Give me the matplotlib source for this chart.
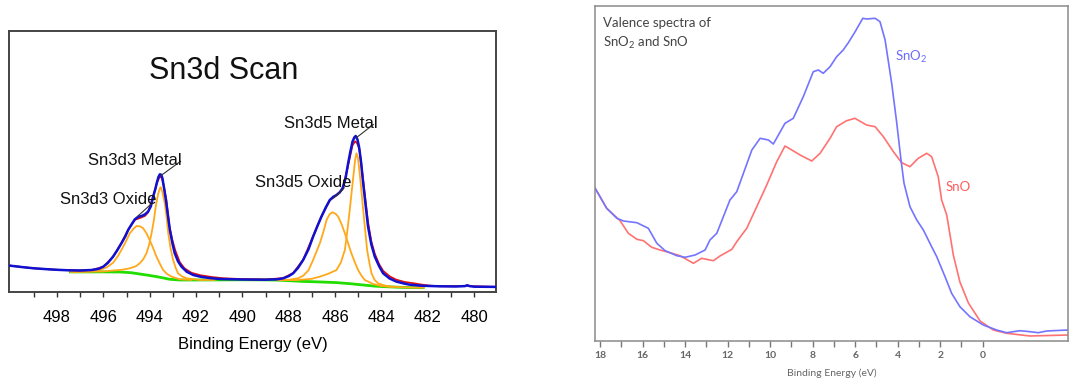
import matplotlib
matplotlib.use("Agg")
import matplotlib.pyplot as plt

# ---- left panel: Sn3d scan (binding energy eV, intensity in arbitrary units) ----
env_e = [500.05, 499.5, 499.0, 498.5, 498.0, 497.5, 497.0, 496.5, 496.2, 496.0, 495.8, 495.58,
         495.4, 495.22, 495.05, 494.93, 494.78, 494.64, 494.5, 494.35, 494.2, 494.07, 493.95,
         493.85, 493.76, 493.68, 493.62, 493.56, 493.5, 493.45, 493.38, 493.3, 493.22, 493.13,
         493.02, 492.92, 492.78, 492.63, 492.4, 492.12, 491.8, 491.4, 490.97, 490.0, 489.0,
         488.5, 488.24, 488.0, 487.81, 487.6, 487.38, 487.15, 486.95, 486.77, 486.59, 486.4,
         486.23, 486.08, 485.94, 485.8, 485.68, 485.55, 485.44, 485.34, 485.25, 485.17, 485.11,
         485.04, 484.97, 484.88, 484.79, 484.68, 484.58, 484.44, 484.29, 484.1, 483.93, 483.65,
         483.36, 483.0, 482.78, 482.3, 481.5, 480.8, 480.4, 480.3, 480.2, 480.0, 479.06]
env_y = [26.7, 25.2, 24.0, 23.2, 22.5, 22.0, 21.8, 22.3, 23.5, 25.7, 29.5, 35.7,
         42, 49, 56, 62.3, 68, 73, 75.5, 76.3, 78, 80.7, 86,
         95.7, 103, 110.7, 115.5, 118, 117.5, 114, 104, 92.3, 78, 62.3,
         49, 39, 31, 25.7, 20.5, 17.3, 15.5, 14.2, 13.3, 12.8, 12.6,
         13.0, 14, 16.2, 19, 24.5, 32.3, 43, 55.7, 66, 75.7, 85,
         92.3, 95.5, 97.3, 100, 104, 114, 129, 141, 150.7, 155, 156.3,
         153, 145.7, 130, 109, 86, 65.7, 48, 35.7, 26, 19, 13.8,
         10.7, 8.6, 7.6, 6.6, 6.0, 5.8, 6.2, 7.0, 6.2, 5.6, 5.4]

raw_e = [500.05, 499.0, 498.0, 497.0, 496.5, 496.0, 495.58, 495.22, 494.93, 494.64, 494.4,
         494.2, 494.07, 493.85, 493.68, 493.56, 493.47, 493.38, 493.28, 493.15, 493.02, 492.9,
         492.7, 492.5, 492.2, 491.8, 491.3, 490.8, 490.0, 489.0, 488.24, 487.81, 487.38,
         486.95, 486.59, 486.23, 485.94, 485.68, 485.44, 485.25, 485.14, 485.05, 484.95, 484.8,
         484.68, 484.58, 484.44, 484.29, 484.1, 483.93, 483.65, 483.36, 483.0, 482.6, 482.3,
         481.9, 481.5, 480.4, 480.3, 480.2, 479.06]
raw_y = [26.7, 24.0, 22.5, 21.8, 22.3, 25.5, 35.5, 49.5, 62.5, 72.5, 74.5,
         76.5, 80, 96, 110, 116, 114, 105, 92, 66, 52, 42,
         30, 24, 19.5, 17, 15.2, 14, 13.2, 12.8, 14.2, 19.3, 32.5,
         56, 76, 92, 97, 103, 127, 147, 151, 149, 143, 114,
         90, 70, 51, 38.5, 28, 21.5, 16, 12.6, 10.3, 9, 7.8,
         6.6, 6.1, 6.2, 7.0, 6.2, 5.4]

bg_e = [497.42, 497.0, 496.0, 495.29, 494.8, 494.43, 494.05, 493.71, 493.4, 493.13, 492.7,
        492.0, 491.0, 490.0, 489.0, 488.5, 488.0, 487.38, 486.6, 485.94, 485.3, 484.79,
        484.3, 483.93, 483.3, 482.78, 482.2]
bg_y = [20.4, 20.4, 20.4, 20.3, 19.6, 18.3, 17, 15.7, 14.3, 13, 12.3,
        12.3, 12.4, 12.5, 12.4, 12.2, 11.6, 10.9, 10.3, 9.7, 8.5, 7.3,
        6.2, 5.7, 5.1, 4.7, 4.6]

ox3_e = [497.4, 496.6, 496.15, 495.85, 495.58, 495.35, 495.14, 494.98, 494.86, 494.7, 494.57,
         494.42, 494.28, 494.14, 494.0, 493.85, 493.71, 493.55, 493.42, 493.25, 493.06, 492.7, 492.2]
ox3_y = [20.4, 20.8, 22.3, 25, 29.5, 37, 45.7, 53, 59, 63.5, 66.3,
         66, 64, 59, 52.3, 44, 35.7, 28, 22.3, 18.3, 15.7, 13, 12.4]

me3_e = [497.4, 496.0, 495.58, 495.2, 494.86, 494.6, 494.43, 494.28, 494.14, 494.02, 493.92,
         493.82, 493.74, 493.64, 493.56, 493.52, 493.45, 493.35, 493.27, 493.2, 493.1, 492.99,
         492.88, 492.78, 492.6, 492.41, 491.84, 491.2]
me3_y = [20.4, 20.8, 21.8, 22.5, 24, 26, 29, 33, 39, 48, 59,
         72, 85.7, 98, 104, 105, 100, 89, 75, 59, 44, 32.3,
         24.5, 19, 15.8, 14, 12.3, 12.3]

ox5_e = [488.5, 488.0, 487.6, 487.38, 487.15, 486.95, 486.8, 486.66, 486.5, 486.37, 486.24,
         486.12, 485.98, 485.87, 485.72, 485.58, 485.44, 485.3, 485.15, 485.01, 484.86, 484.72,
         484.36, 484.0, 483.5]
ox5_y = [12.2, 12.5, 14, 16.5, 22, 32.3, 41, 49, 61, 72.3, 78,
         80, 78.5, 75.7, 68, 59, 49, 39, 30, 22.3, 16.5, 12.3,
         8.3, 6.3, 5.3]

me5_e = [488.5, 487.67, 487.0, 486.66, 486.3, 485.94, 485.75, 485.58, 485.47, 485.37, 485.28,
         485.2, 485.14, 485.08, 485.02, 484.97, 484.88, 484.79, 484.7, 484.62, 484.52, 484.43,
         484.3, 484.15, 483.9, 483.64, 482.78, 482.2]
me5_y = [12.2, 12.2, 13.5, 15.7, 18.5, 22.3, 30, 42.3, 62, 82.3, 102,
         119, 132, 139, 135, 125.7, 105, 82.3, 61, 42.3, 29, 19,
         12.5, 9, 7, 5.7, 4.7, 4.6]

# label text, text anchor (left, centre) and leader line (from, to)
peak_labels = ["Sn3d3 Metal", "Sn3d3 Oxide", "Sn3d5 Oxide", "Sn3d5 Metal"]
label_pos = [(496.68, 132), (497.87, 92.8), (489.47, 109.5), (488.21, 168.9)]
leader_from = [(492.67, 131), (493.96, 87.8), (485.61, 104.4), (484.35, 167.8)]
leader_to = [(493.51, 116.8), (494.52, 76), (486.06, 94.4), (485.09, 154.5)]

# ---- right panel: valence spectra ----
sno2_e = [18.24, 17.69, 17.21, 16.9, 16.27, 15.73, 15.33, 14.94, 14.39, 14.0, 13.53, 13.06,
          12.83, 12.51, 11.89, 11.57, 10.86, 10.47, 10.08, 9.85, 9.3, 8.91, 8.44, 7.97,
          7.73, 7.5, 7.18, 6.87, 6.56, 6.32, 6.0, 5.64, 5.46, 5.06, 4.83, 4.59, 4.28, 4.04,
          3.86, 3.7, 3.42, 3.1, 2.79, 2.48, 2.16, 1.77, 1.46, 1.07, 0.6, -0.03, -0.66,
          -1.13, -1.76, -2.23, -2.62, -3.01, -4.03]
sno2_y = [153, 132.7, 122.7, 120, 118.3, 112.7, 97.7, 90.3, 85.3, 83.7, 86, 91,
          101, 107.7, 141, 149.3, 191, 202.7, 201, 197, 217.7, 222.7, 244.3, 269.3,
          271, 267.7, 274.3, 284.3, 291, 298.3, 309.3, 322.7, 322, 322.7, 319.3, 301, 257.7, 217.7,
          184.3, 157.7, 134.3, 121, 111, 97.7, 84.3, 64.3, 47.7, 34.3, 24.3, 16, 11,
          8.3, 10.3, 9.3, 8.3, 10, 11]

sno_e = [18.24, 17.69, 17.06, 16.67, 16.27, 15.96, 15.57, 15.18, 14.71, 14.24, 13.61, 13.22,
         12.67, 12.36, 11.8, 11.57, 11.1, 10.63, 10.16, 9.69, 9.3, 8.98, 8.59, 8.04,
         7.65, 7.18, 6.87, 6.4, 6.01, 5.46, 5.06, 4.67, 4.2, 3.81, 3.42, 3.03, 2.63, 2.4,
         2.09, 1.93, 1.69, 1.38, 1.07, 0.67, 0.12, -0.5, -1.13, -2.23, -4.03]
sno_y = [153, 132.7, 120.3, 107.7, 101.7, 100.3, 93.7, 91, 88.3, 85.3, 77.7, 82.7,
         80.3, 85, 91.7, 99.3, 112.7, 134.3, 156, 179.3, 195, 191, 186, 180,
         187.7, 202.7, 214.3, 220.3, 222.7, 216, 214.3, 204.3, 189.3, 178.3, 174.3, 182.7, 187.7, 184.3,
         164.3, 141, 126, 86, 59, 38, 20, 11, 7.7, 5, 6]

xticks_left = list(range(480, 500, 2))
xticks_right = list(range(0, 20, 2))

fig = plt.figure(figsize=(10.8, 3.92), dpi=100)

# left panel
ax1 = fig.add_axes([9 / 1080, 1 - 292.3 / 392, 487 / 1080, 261.3 / 392])
ax1.plot(bg_e, bg_y, color="#22dd00", lw=2.0, zorder=2)
for e, y in [(ox3_e, ox3_y), (me3_e, me3_y), (ox5_e, ox5_y), (me5_e, me5_y)]:
    ax1.plot(e, y, color="#ffa81a", lw=1.3, zorder=3)
ax1.plot(raw_e, raw_y, color="#e01010", lw=1.3, zorder=4)
ax1.plot(env_e, env_y, color="#1010d0", lw=1.8, zorder=5)

for txt, (tx, ty), p0, p1 in zip(peak_labels, label_pos, leader_from, leader_to):
    ax1.plot([p0[0], p1[0]], [p0[1], p1[1]], color="#333333", lw=0.8, zorder=6)
    ax1.text(tx, ty, txt, ha="left", va="center", fontsize=12,
             family="Liberation Sans", color="#111111", zorder=7)
ax1.text(490.81, 221.2, "Sn3d Scan", ha="center", va="center", fontsize=22,
         family="Liberation Sans", color="#111111")

ax1.set_xlim(500.07, 479.06)
ax1.set_ylim(0, 261.3)
ax1.set_yticks([])
ax1.set_xticks(range(480, 500), minor=True)
ax1.set_xticks(xticks_left)
ax1.set_xticklabels([str(v) for v in xticks_left], fontsize=12, family="Liberation Sans")
ax1.tick_params(axis="x", which="both", direction="out", length=3.5, width=1.0,
                color="#333333", pad=9)
ax1.tick_params(axis="x", which="minor", labelbottom=False)
ax1.set_xlabel("Binding Energy (eV)", fontsize=12, family="Liberation Sans", labelpad=9)
for s in ax1.spines.values():
    s.set_color("#444444")
    s.set_linewidth(1.4)

# right panel
ax2 = fig.add_axes([595 / 1080, 1 - 341 / 392, 473.3 / 1080, 335.3 / 392])
ax2.plot(sno_e, sno_y, color="#ff7272", lw=1.2)
ax2.plot(sno2_e, sno2_y, color="#7474ff", lw=1.2)
ax2.text(4.125, 284, r"SnO$_\mathregular{2}$", color="#6b6bff", fontsize=9.5,
         family="Lato", ha="left", va="center")
ax2.text(1.77, 154, "SnO", color="#ff5c5c", fontsize=9.5, family="Lato",
         ha="left", va="center")
ax2.text(0.016, 0.965, "Valence spectra of\n" + r"SnO$_\mathregular{2}$ and SnO",
         transform=ax2.transAxes, ha="left", va="top", fontsize=9.5, family="Lato",
         color="#444444", linespacing=1.45)

ax2.set_xlim(18.24, -4.03)
ax2.set_ylim(0, 335.3)
ax2.set_yticks([])
ax2.set_xticks(range(0, 19), minor=True)
ax2.set_xticks(xticks_right)
ax2.set_xticklabels([str(v) for v in xticks_right], fontsize=7.5, family="Lato",
                    fontweight="bold", color="#666666")
ax2.tick_params(axis="x", which="both", direction="out", length=4, width=1.0,
                color="#777777", pad=3)
ax2.tick_params(axis="x", which="minor", labelbottom=False)
ax2.set_xlabel("Binding Energy (eV)", fontsize=7.5, family="Lato", color="#666666",
               labelpad=6)
for s in ax2.spines.values():
    s.set_color("#8a8a8a")
    s.set_linewidth(1.1)

fig.savefig("out.png", dpi=100)
plt.close(fig)
